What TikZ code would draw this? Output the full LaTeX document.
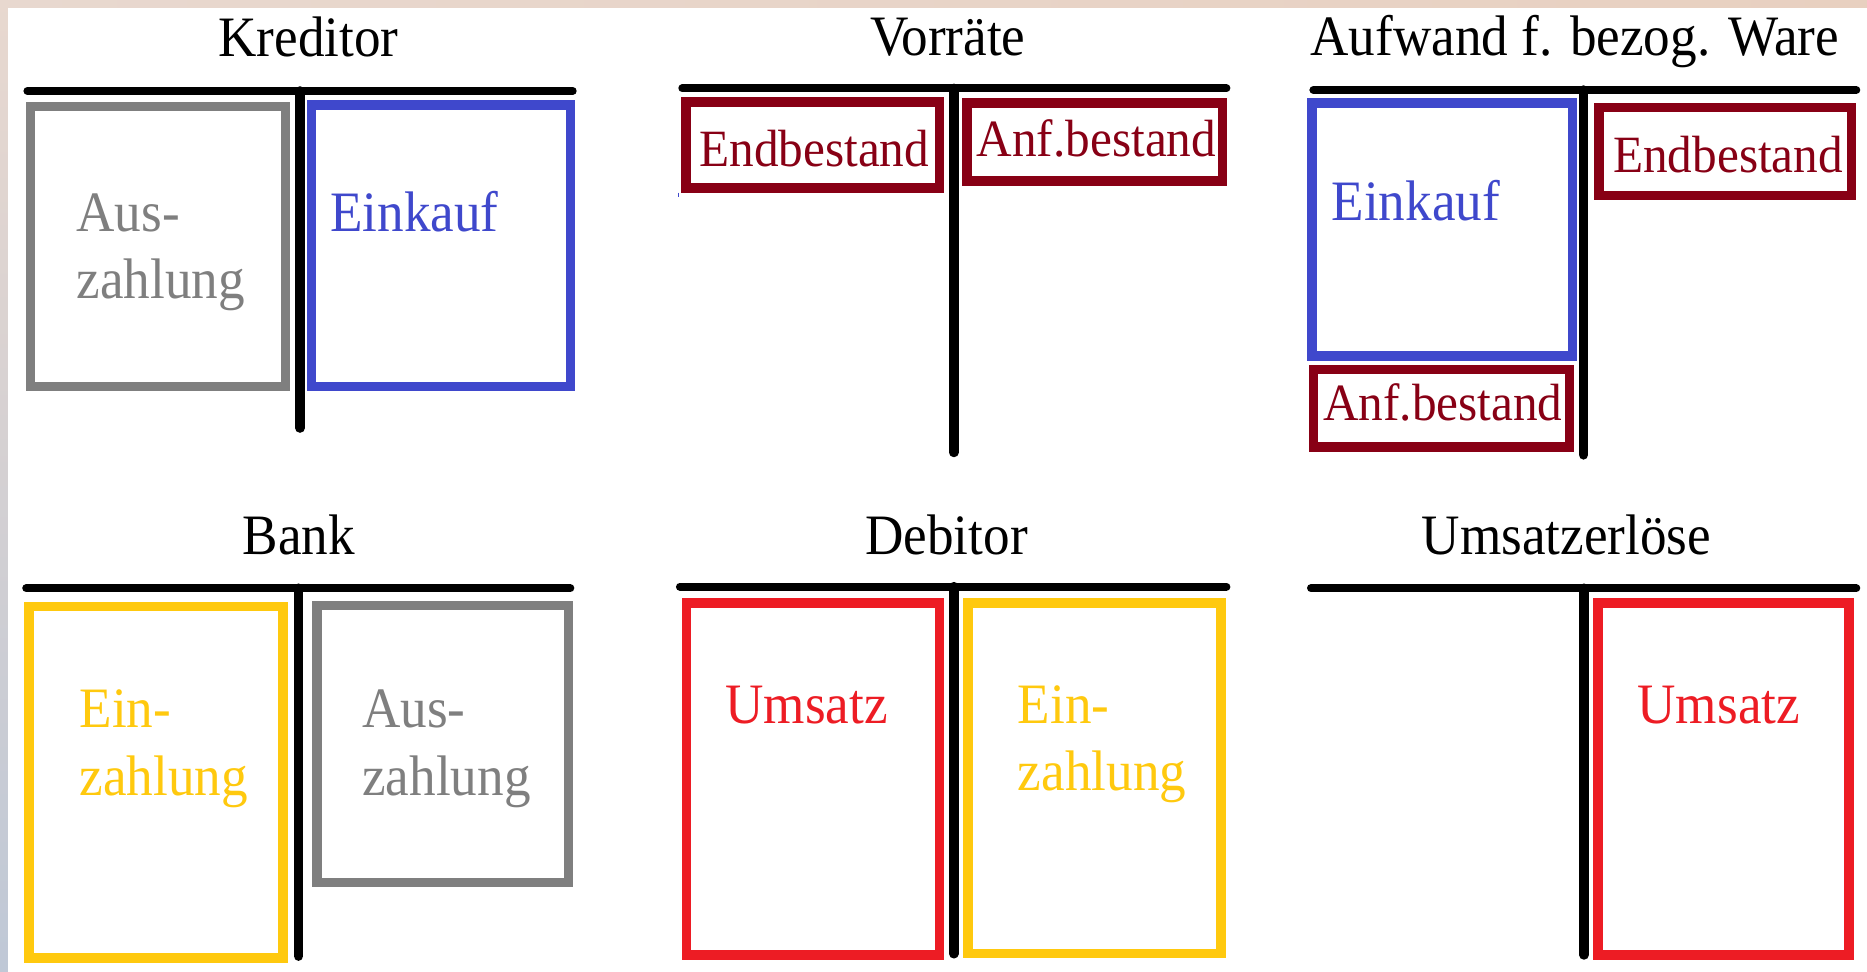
\documentclass[tikz,border=0pt]{standalone}
\usepackage{fontspec}
\setmainfont{Liberation Serif}
\newfontfamily\acctserif[FakeStretch=0.93]{Liberation Serif}
\newfontfamily\acctserifb[FakeStretch=0.94]{Liberation Serif}
\newcommand\titlefont{\acctserif\fontsize{28.8}{34}\selectfont}
\newcommand\labelfont{\acctserif\fontsize{28.8}{34}\selectfont}
\newcommand\stockfont{\acctserifb\fontsize{26.4}{32}\selectfont}
\newcommand\twolines[2]{\begin{tabular}[t]{@{}l@{}}#1\\#2\end{tabular}}

\definecolor{pgray}{HTML}{7F7F7F}
\definecolor{pindigo}{HTML}{3F48CC}
\definecolor{pred}{HTML}{ED1C24}
\definecolor{pgold}{HTML}{FFC90E}
\definecolor{pmaroon}{HTML}{880015}
\definecolor{rimtop}{HTML}{E8D8CF}
\definecolor{rimmid}{HTML}{D2C2CA}
\definecolor{rimbot}{HTML}{BFC8D6}
\definecolor{rimright}{HTML}{E8D0C0}

\tikzset{
  hbar/.style={line width=4pt, line cap=round},
  vbar/.style={line width=4.8pt, line cap=round},
  acct/.style={line width=4.8pt},
  ttl/.style={anchor=base, inner sep=0pt, font=\titlefont},
  lbl/.style={anchor=base west, inner sep=0pt, font=\labelfont},
  stock/.style={anchor=base west, inner sep=0pt, font=\stockfont, text=pmaroon},
}

\begin{document}
\begin{tikzpicture}[x=0.6pt, y=-0.6pt]
  % canvas and tinted rim along the top and left edges
  \fill[white] (0,0) rectangle (1568,816);
  \useasboundingbox (0,0) rectangle (1568,816);
  \shade[top color=rimtop, middle color=rimmid, bottom color=rimbot] (0,0) rectangle (6.7,816);
  \shade[left color=rimtop, right color=rimright] (0,0) rectangle (1568,6.7);

  % ---------------- Kreditor ----------------
  \node[ttl] (kred) at (259,47.5) {Kreditor};
  \draw[hbar] (23,76.4) -- (481,76.4);
  \draw[vbar] (252,76.4) -- (252,359.5);
  \draw[acct, pgray] (25.8,89.4) rectangle (239.6,324.4);
  \draw[acct, pindigo] (261.6,88) rectangle (479,324.4);
  \node[lbl, text=pgray] (kred-aus) at (64,194) {\twolines{Aus-}{zahlung}};
  \node[lbl, text=pindigo] (kred-ein) at (277,194) {Einkauf};

  % ---------------- Vorräte ----------------
  \node[ttl] (vorr) at (796,46.5) {Vorräte};
  \draw[hbar] (573,74.2) -- (1030,74.2);
  \draw[vbar] (801,74.2) -- (801,380);
  \draw[acct, pmaroon] (576,85.5) rectangle (789,158);
  \draw[acct, pmaroon] (812,86.6) rectangle (1026.5,152);
  \node[stock] (vorr-end) at (587,140) {Endbestand};
  \node[stock] (vorr-anf) at (820,131.5) {Anf.bestand};
  \draw[pindigo, line width=0.6pt] (570,161.8) -- (570,165.7);

  % ---------------- Aufwand f. bezog. Ware ----------------
  \node[ttl] (aufw) at (1322.5,46.5) {Aufwand f. bezog. Ware};
  \draw[hbar] (1103,75.6) -- (1559,75.6);
  \draw[vbar] (1330,75.6) -- (1330,382);
  \draw[acct, pindigo] (1101.7,86.6) rectangle (1320.8,299);
  \draw[acct, pmaroon] (1103,310.5) rectangle (1318,375.4);
  \draw[acct, pmaroon] (1342.7,90.2) rectangle (1555,164);
  \node[lbl, text=pindigo] (aufw-ein) at (1118,185) {Einkauf};
  \node[stock] (aufw-anf) at (1111,353.5) {Anf.bestand};
  \node[stock] (aufw-end) at (1354.5,144.5) {Endbestand};

  % ---------------- Bank ----------------
  \node[ttl] (bank) at (251,465.5) {Bank};
  \draw[hbar] (22,494) -- (479,494);
  \draw[vbar] (250.7,494) -- (250.7,803);
  \draw[acct, pgold] (24.2,509.3) rectangle (237.8,804.5);
  \draw[acct, pgray] (266.4,508.5) rectangle (477.5,741.2);
  \node[lbl, text=pgold] (bank-ein) at (66.5,611) {\twolines{Ein-}{zahlung}};
  \node[lbl, text=pgray] (bank-aus) at (304,611) {\twolines{Aus-}{zahlung}};

  % ---------------- Debitor ----------------
  \node[ttl] (debi) at (795,465.5) {Debitor};
  \draw[hbar] (571,492.7) -- (1030,492.7);
  \draw[vbar] (801,492.7) -- (801,801);
  \draw[acct, pred] (576.4,506.5) rectangle (789.2,802.2);
  \draw[acct, pgold] (813,506.5) rectangle (1025.6,800.6);
  \node[lbl, text=pred] (debi-ums) at (609,607.5) {Umsatz};
  \node[lbl, text=pgold] (debi-ein) at (854.6,607.5) {\twolines{Ein-}{zahlung}};

  % ---------------- Umsatzerlöse ----------------
  \node[ttl] (umse) at (1315.5,466) {Umsatzerlöse};
  \draw[hbar] (1101,494) -- (1559,494);
  \draw[vbar] (1330.3,494) -- (1330.3,802);
  \draw[acct, pred] (1342,506.5) rectangle (1553,802);
  \node[lbl, text=pred] (umse-ums) at (1375,607.5) {Umsatz};
\end{tikzpicture}
\end{document}
